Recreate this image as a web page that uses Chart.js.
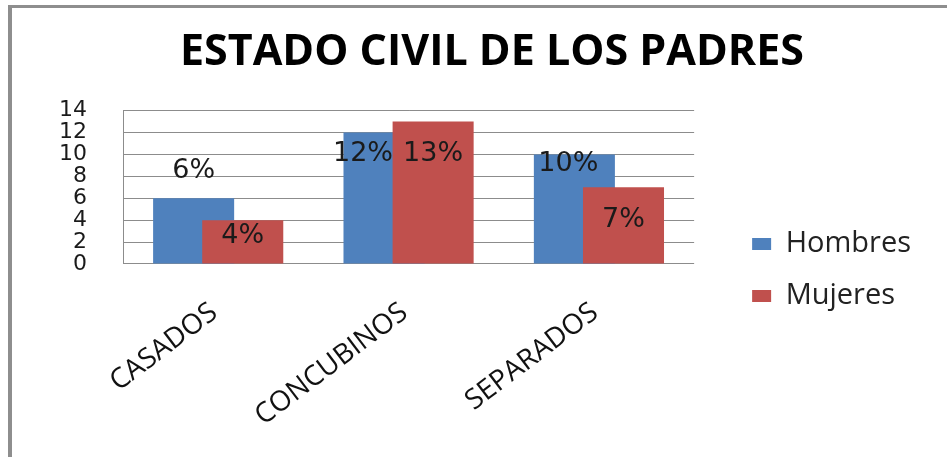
<!DOCTYPE html>
<html>
<head>
<meta charset="utf-8">
<script src="https://cdn.jsdelivr.net/npm/chart.js@4/dist/chart.umd.min.js"></script>
<style>
  html, body { margin: 0; padding: 0; background: #fff; overflow: hidden; }
  .frame { position: absolute; left: 8px; top: 5px; width: 960px; height: 470px;
           border-left: 4px solid #8e8e8e; border-top: 3px solid #8e8e8e; }
  .box { position: absolute; left: 11px; top: 8px; width: 936px; height: 449px; }
</style>
</head>
<body>
<div class="frame"></div>
<div class="box"><canvas id="chart"></canvas></div>
<script>
// datos
const categories = ["CASADOS", "CONCUBINOS", "SEPARADOS"];
const hombres = [6, 12, 10];
const mujeres = [4, 13, 7];
const seriesNames = ["Hombres", "Mujeres"];
const yMin = 0, yMax = 14, yStep = 2;

// desplazamiento de las etiquetas respecto al borde superior de cada barra (px)
const labelShift = [
    [[0, -27], [-21, 21], [-6, 10]],
    [[0, 16], [0, 32], [0, 33]],
];

// barras solapadas: la serie siguiente se pinta encima de la anterior
const overlapOrder = {
    id: "overlapOrder",
    beforeDatasetDraw() {
        return false;
    },
    afterDatasetsDraw(chart) {
        chart.getSortedVisibleDatasetMetas().forEach((meta) => meta.controller.draw());
    },
};

const barLabels = {
    id: "barLabels",
    afterDatasetsDraw(chart) {
        const ctx = chart.ctx;
        ctx.save();
        ctx.font = "27px 'DejaVu Sans'";
        ctx.fillStyle = "#1a1a1a";
        ctx.textAlign = "center";
        ctx.textBaseline = "middle";
        chart.data.datasets.forEach((ds, d) => {
            chart.getDatasetMeta(d).data.forEach((bar, i) => {
                const [dx, dy] = labelShift[d][i];
                ctx.fillText(ds.data[i] + "%", bar.x + dx, bar.y + dy);
            });
        });
        ctx.restore();
    },
};

let chart = null;

function initChart() {
    const canvas = document.getElementById("chart");
    const ctx = canvas?.getContext("2d");
    if (!ctx) return;

    // medidas de la leyenda y del eje para cuadrar el layout
    const legendFont = { family: "'Open Sans'", size: 29 };
    const legendPad = 23, legendBox = 19;
    ctx.font = `${legendFont.size}px ${legendFont.family}`;
    const textW = Math.max(...seriesNames.map((s) => ctx.measureText(s).width));
    const legendW = Math.ceil(legendPad + legendBox + legendFont.size / 2 + textW + 10);
    const tickFont = { family: "'DejaVu Sans'", size: 22 };
    ctx.font = `${tickFont.size}px ${tickFont.family}`;
    const widest = ctx.measureText(String(yMax)).width;

    const boxLeft = 11;          // posición del canvas en la página
    const plotLeft = 123, plotRight = 694;
    const legendLeft = 752 - legendPad;
    const legendRight = legendLeft + legendW;
    const padRight = 947 - legendRight;
    const leftEdge = 984 - legendRight;  // título centrado en x=492
    const padLeft = leftEdge - boxLeft;

    chart = new Chart(ctx, {
        type: "bar",
        data: {
            labels: categories,
            datasets: [
                {
                    label: seriesNames[0],
                    data: hombres,
                    backgroundColor: "#4f81bd",
                    borderWidth: 0,
                    categoryPercentage: 0.516,
                    barPercentage: 1.65,
                },
                {
                    label: seriesNames[1],
                    data: mujeres,
                    backgroundColor: "#c0504d",
                    borderWidth: 0,
                    categoryPercentage: 0.516,
                    barPercentage: 1.65,
                },
            ],
        },
        options: {
            responsive: true,
            maintainAspectRatio: false,
            animation: false,
            layout: { padding: { left: padLeft, right: padRight, top: 0, bottom: 0 } },
            plugins: {
                title: {
                    display: true,
                    text: "ESTADO CIVIL DE LOS PADRES",
                    color: "#000",
                    font: { family: "'Open Sans'", size: 43, weight: "bold" },
                    padding: { top: 19, bottom: 32 },
                },
                legend: {
                    position: "right",
                    fullSize: true,
                    maxWidth: legendW,
                    title: {
                        display: true,
                        text: "",
                        font: { size: 15, lineHeight: 1 },
                        padding: { top: 30, bottom: 30 },
                    },
                    labels: {
                        boxWidth: legendBox,
                        boxHeight: 12,
                        padding: legendPad,
                        color: "#222",
                        font: legendFont,
                    },
                },
                tooltip: { enabled: false },
            },
            scales: {
                x: {
                    grid: { display: false },
                    border: { display: false },
                    ticks: {
                        autoSkip: false,
                        minRotation: 37,
                        maxRotation: 37,
                        padding: 24,
                        labelOffset: -4,
                        color: "#111",
                        font: { family: "'Open Sans'", size: 28 },
                    },
                    afterFit: (s) => { s.height = 193; },
                },
                y: {
                    min: yMin,
                    max: yMax,
                    ticks: {
                        stepSize: yStep,
                        autoSkip: false,
                        mirror: true,
                        crossAlign: "far",
                        padding: -(36 + widest),
                        color: "#1a1a1a",
                        font: tickFont,
                    },
                    grid: { color: "#8c8c8c", drawTicks: false },
                    border: { color: "#8c8c8c" },
                    afterFit: (s) => { s.width = plotLeft - leftEdge; },
                },
                gap: {
                    axis: "y",
                    type: "linear",
                    position: "right",
                    ticks: { display: false },
                    grid: { display: false },
                    border: { display: false },
                    afterFit: (s) => { s.width = legendLeft - plotRight; },
                },
            },
        },
        plugins: [overlapOrder, barLabels],
    });
}

document.addEventListener("DOMContentLoaded", initChart);
</script>
</body>
</html>
